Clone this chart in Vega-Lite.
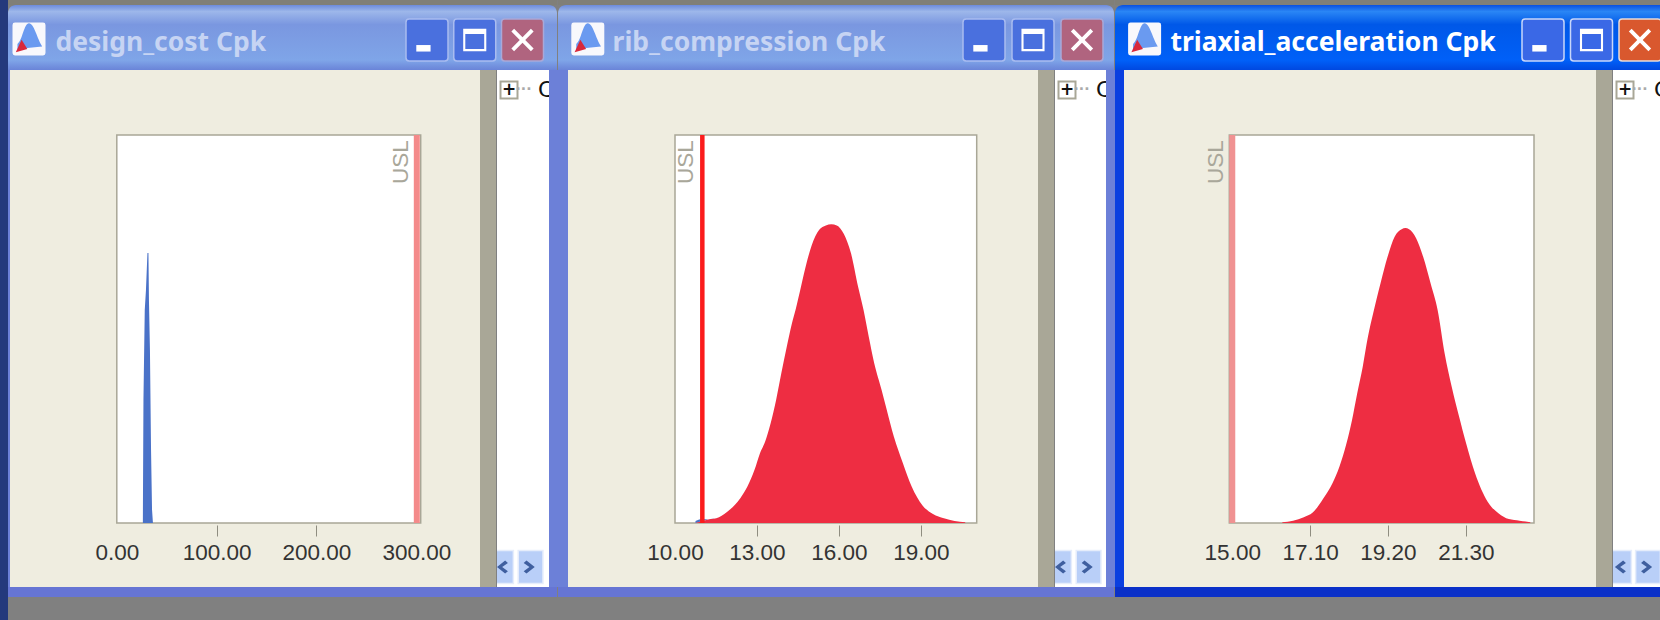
{"$schema":"https://vega.github.io/schema/vega-lite/v6.json","background":"#808080","padding":0,"spacing":0,"config":{"view":{"stroke":null},"concat":{"spacing":0},"axis":{"grid":false,"domain":false,"zindex":1}},
"datasets":{
"part":[{"part":"chrome"}],
"buttons":[{"button":"minimize"},{"button":"maximize"},{"button":"close"}],
"icon":[{"item":"icon","part":"plate"},{"item":"icon","part":"bell"},{"item":"icon","part":"foot"}],
"tree":[{"item":"expander","row":"head"}],
"treePlus":[{"item":"expander","row":"head","label":"+"}],
"treeDots":[{"item":"connector","row":"head","label":"···"}],
"treeNode":[{"item":"node","row":"head","label":"C"}],
"scroll":[{"item":"back","row":"foot"},{"item":"forward","row":"foot"}],
"design_cost":[{"series":"conforming","x":26.1,"y":0},{"series":"conforming","x":26.2,"y":0.06},{"series":"conforming","x":26.7,"y":0.317},{"series":"conforming","x":28.0,"y":0.549},{"series":"conforming","x":29.2,"y":0.6},{"series":"conforming","x":30.7,"y":0.696},{"series":"conforming","x":31.7,"y":0.696},{"series":"conforming","x":32.2,"y":0.575},{"series":"conforming","x":33.2,"y":0.446},{"series":"conforming","x":34.3,"y":0.188},{"series":"conforming","x":35.3,"y":0.034},{"series":"conforming","x":36.2,"y":0}],
"rib":[{"series":"conforming","x":10.75,"y":0.005},{"series":"conforming","x":11.02,"y":0.005},
{"series":"nonconforming","x":11.02,"y":0.005},{"series":"nonconforming","x":11.21,"y":0.009},{"series":"nonconforming","x":11.61,"y":0.015},{"series":"nonconforming","x":12.0,"y":0.034},{"series":"nonconforming","x":12.39,"y":0.064},{"series":"nonconforming","x":12.65,"y":0.094},{"series":"nonconforming","x":12.91,"y":0.137},{"series":"nonconforming","x":13.11,"y":0.18},{"series":"nonconforming","x":13.3,"y":0.21},{"series":"nonconforming","x":13.5,"y":0.257},{"series":"nonconforming","x":13.7,"y":0.317},{"series":"nonconforming","x":13.89,"y":0.386},{"series":"nonconforming","x":14.09,"y":0.454},{"series":"nonconforming","x":14.28,"y":0.515},{"series":"nonconforming","x":14.41,"y":0.549},{"series":"nonconforming","x":14.61,"y":0.609},{"series":"nonconforming","x":14.81,"y":0.669},{"series":"nonconforming","x":15.0,"y":0.715},{"series":"nonconforming","x":15.27,"y":0.755},{"series":"nonconforming","x":15.52,"y":0.767},{"series":"nonconforming","x":15.72,"y":0.77},{"series":"nonconforming","x":15.92,"y":0.767},{"series":"nonconforming","x":16.18,"y":0.745},{"series":"nonconforming","x":16.44,"y":0.695},{"series":"nonconforming","x":16.7,"y":0.609},{"series":"nonconforming","x":16.9,"y":0.549},{"series":"nonconforming","x":17.09,"y":0.48},{"series":"nonconforming","x":17.29,"y":0.412},{"series":"nonconforming","x":17.56,"y":0.343},{"series":"nonconforming","x":17.75,"y":0.291},{"series":"nonconforming","x":18.01,"y":0.222},{"series":"nonconforming","x":18.34,"y":0.154},{"series":"nonconforming","x":18.66,"y":0.094},{"series":"nonconforming","x":19.05,"y":0.046},{"series":"nonconforming","x":19.44,"y":0.023},{"series":"nonconforming","x":19.84,"y":0.012},{"series":"nonconforming","x":20.23,"y":0.005},{"series":"nonconforming","x":20.62,"y":0.002}],
"tri":[{"series":"nonconforming","x":16.35,"y":0.002},{"series":"nonconforming","x":16.64,"y":0.006},{"series":"nonconforming","x":16.93,"y":0.015},{"series":"nonconforming","x":17.17,"y":0.027},{"series":"nonconforming","x":17.46,"y":0.064},{"series":"nonconforming","x":17.7,"y":0.102},{"series":"nonconforming","x":17.89,"y":0.145},{"series":"nonconforming","x":18.08,"y":0.205},{"series":"nonconforming","x":18.23,"y":0.265},{"series":"nonconforming","x":18.37,"y":0.334},{"series":"nonconforming","x":18.52,"y":0.403},{"series":"nonconforming","x":18.66,"y":0.48},{"series":"nonconforming","x":18.8,"y":0.54},{"series":"nonconforming","x":19.0,"y":0.618},{"series":"nonconforming","x":19.19,"y":0.686},{"series":"nonconforming","x":19.38,"y":0.738},{"series":"nonconforming","x":19.57,"y":0.757},{"series":"nonconforming","x":19.67,"y":0.76},{"series":"nonconforming","x":19.77,"y":0.757},{"series":"nonconforming","x":19.96,"y":0.734},{"series":"nonconforming","x":20.15,"y":0.686},{"series":"nonconforming","x":20.35,"y":0.618},{"series":"nonconforming","x":20.54,"y":0.549},{"series":"nonconforming","x":20.73,"y":0.437},{"series":"nonconforming","x":20.92,"y":0.351},{"series":"nonconforming","x":21.12,"y":0.274},{"series":"nonconforming","x":21.31,"y":0.205},{"series":"nonconforming","x":21.55,"y":0.128},{"series":"nonconforming","x":21.89,"y":0.055},{"series":"nonconforming","x":22.18,"y":0.025},{"series":"nonconforming","x":22.46,"y":0.01},{"series":"nonconforming","x":22.75,"y":0.006},{"series":"nonconforming","x":23.04,"y":0.002}]
},
"hconcat":[
{"width":8,"height":620,"data":{"name":"part"},"mark":{"type":"rect","color":"#24397c"}},
{"spacing":0,"vconcat":[
 {"width":549,"height":5,"data":{"name":"part"},"mark":{"type":"rect","color":"#807f78"}},
 {"width":549,"height":65,"resolve":{"scale":{"x":"independent","shape":"independent","fill":"independent","stroke":"independent"}},"layer":[
  {"data":{"name":"part"},"mark":{"type":"rect","cornerRadiusTopLeft":8,"cornerRadiusTopRight":8,"color":{"x1":0,"y1":0,"x2":0,"y2":1,"gradient":"linear","stops":[{"offset":0,"color":"#6d8bdc"},{"offset":0.1,"color":"#9db7ea"},{"offset":0.3,"color":"#7a97e0"},{"offset":0.85,"color":"#7fa5e8"},{"offset":1,"color":"#6a84d8"}]}}},
  {"data":{"name":"buttons"},"mark":{"type":"point","filled":true,"opacity":1,"size":1764,"yOffset":2.5,"strokeWidth":1.5,"shape":"M -0.85 -1 Q -1 -1 -1 -0.85 V 0.85 Q -1 1 -0.85 1 H 0.85 Q 1 1 1 0.85 V -0.85 Q 1 -1 0.85 -1 Z"},"encoding":{"x":{"field":"button","type":"nominal","axis":null,"scale":{"type":"point","padding":0,"domain":["minimize","maximize","close"],"range":[419,514.5]}},"fill":{"field":"button","type":"nominal","legend":null,"scale":{"domain":["minimize","maximize","close"],"range":["#4a70de","#4a70de","#b0647f"]}},"stroke":{"field":"button","type":"nominal","legend":null,"scale":{"domain":["minimize","maximize","close"],"range":["#a9bcf0","#a9bcf0","#a9a8d8"]}}}},
  {"data":{"name":"buttons"},"mark":{"type":"point","filled":true,"opacity":1,"size":1764,"yOffset":2.5,"color":"#ffffff"},"encoding":{"x":{"field":"button","type":"nominal","axis":null,"scale":{"type":"point","padding":0,"domain":["minimize","maximize","close"],"range":[419,514.5]}},"shape":{"field":"button","type":"nominal","legend":null,"scale":{"domain":["minimize","maximize","close"],"range":["M -0.51 0.24 H 0.17 V 0.55 H -0.51 Z","M -0.55 -0.53 H 0.55 V 0.53 H -0.55 Z M -0.45 -0.29 V 0.43 H 0.45 V -0.29 Z","M -0.53 -0.4 L -0.4 -0.53 L 0 -0.13 L 0.4 -0.53 L 0.53 -0.4 L 0.13 0 L 0.53 0.4 L 0.4 0.53 L 0 0.13 L -0.4 0.53 L -0.53 0.4 L -0.13 0 Z"]}}}},
  {"data":{"name":"icon"},"mark":{"type":"point","filled":true,"opacity":1,"size":1089,"yOffset":1.5},"encoding":{"x":{"field":"item","type":"nominal","axis":null,"scale":{"type":"point","padding":0,"domain":["icon","title"],"range":[21,47.4]}},"shape":{"field":"part","type":"nominal","legend":null,"scale":{"domain":["plate","bell","foot"],"range":["M -0.85 -1 Q -1 -1 -1 -0.85 V 0.85 Q -1 1 -0.85 1 H 0.85 Q 1 1 1 0.85 V -0.85 Q 1 -1 0.85 -1 Z","M -0.7 0.3 C -0.4 0.1 -0.3 -0.95 0 -0.95 C 0.3 -0.95 0.5 0 0.8 0.45 L -0.7 0.6 Z","M -0.8 0.8 L -0.45 0.05 L -0.1 0.6 Z"]}},"fill":{"field":"part","type":"nominal","legend":null,"scale":{"domain":["plate","bell","foot"],"range":["#f8f8fc","#6a9af0","#d8283c"]}}}},
  {"data":{"values":[{"item":"title","title":"design_cost Cpk"}]},"mark":{"type":"text","align":"left","baseline":"middle","font":"Noto Sans","fontWeight":"bold","fontSize":26.5,"color":"#c6d4f3","yOffset":5},"encoding":{"x":{"field":"item","type":"nominal","axis":null,"scale":{"type":"point","padding":0,"domain":["icon","title"],"range":[21,47.4]}},"text":{"field":"title"}}}
 ]},
 {"spacing":0,"hconcat":[
  {"width":2,"height":517,"data":{"name":"part"},"mark":{"type":"rect","color":"#6c80d8"}},
  {"width":470,"height":517,"view":{"fill":"#efede0"},"encoding":{"x":{"type":"quantitative","scale":{"domain":[0,304.4],"range":[106.8,410.7],"nice":false,"zero":false}},"y":{"type":"quantitative","scale":{"domain":[0,1],"range":[453,65],"nice":false},"axis":null}},"layer":[
   {"data":{"name":"part"},"mark":{"type":"rect","fill":"#ffffff","stroke":"#a9a797","strokeWidth":1.5},"encoding":{"x":{"datum":0},"x2":{"datum":304.4},"y":{"datum":0},"y2":{"datum":1}}},
   {"data":{"name":"design_cost"},"mark":{"type":"area","interpolate":"linear"},"encoding":{"x":{"field":"x","type":"quantitative","axis":{"title":null,"values":[0,100,200,300],"format":".2f","offset":-62,"tickSize":11,"tickColor":"#8f8d80","labelPadding":5,"labelFont":"Liberation Sans","labelFontSize":22.5,"labelColor":"#333333","labelOverlap":false,"labelFlush":false,"tickOpacity":{"condition":{"test":"datum.value === 0 || datum.value === 300","value":0},"value":1}}},"y":{"field":"y","type":"quantitative"},"color":{"field":"series","type":"nominal","legend":null,"scale":{"domain":["conforming","nonconforming"],"range":["#4a72c8","#ee2d42"]}}}},
   {"data":{"values":[{"limit":"USL","value":300.5,"low":0,"high":1,"labelAt":0.93}]},"mark":{"type":"rule","color":"#f48a8a","strokeWidth":6},"encoding":{"x":{"field":"value","type":"quantitative"},"y":{"field":"low","type":"quantitative"},"y2":{"field":"high"}}},
   {"data":{"values":[{"limit":"USL","value":300.5,"low":0,"high":1,"labelAt":0.93}]},"mark":{"type":"text","angle":270,"dy":-16,"align":"center","baseline":"middle","font":"Liberation Sans","fontSize":22.5,"color":"#a9a79a"},"encoding":{"x":{"field":"value","type":"quantitative"},"y":{"field":"labelAt","type":"quantitative"},"text":{"field":"limit"}}}
  ]},
  {"width":16,"height":517,"data":{"name":"part"},"mark":{"type":"rect","color":"#a9a797"}},
  {"width":52,"height":517,"view":{"fill":"#ffffff"},"resolve":{"scale":{"x":"independent","shape":"independent"}},"encoding":{"y":{"field":"row","type":"nominal","axis":null,"scale":{"type":"point","padding":0,"domain":["head","foot"],"range":[20,497]}}},"layer":[
   {"data":{"name":"tree"},"mark":{"type":"point","shape":"square","filled":false,"opacity":1,"size":289,"stroke":"#a9a797","strokeWidth":2,"fill":"#ffffff"},"encoding":{"x":{"field":"item","type":"nominal","axis":null,"scale":{"type":"point","padding":0,"domain":["expander","connector","node"],"range":[12,41]}}}},
   {"data":{"name":"treePlus"},"mark":{"type":"text","align":"center","baseline":"middle","font":"DejaVu Sans","fontWeight":"bold","fontSize":17,"color":"#111111"},"encoding":{"x":{"field":"item","type":"nominal","axis":null,"scale":{"type":"point","padding":0,"domain":["expander","connector","node"],"range":[12,41]}},"text":{"field":"label"}}},
   {"data":{"name":"treeDots"},"mark":{"type":"text","align":"center","baseline":"middle","font":"DejaVu Sans","fontWeight":"bold","fontSize":14,"color":"#aaaaaa"},"encoding":{"x":{"field":"item","type":"nominal","axis":null,"scale":{"type":"point","padding":0,"domain":["expander","connector","node"],"range":[12,41]}},"text":{"field":"label"}}},
   {"data":{"name":"treeNode"},"mark":{"type":"text","align":"left","baseline":"middle","clip":true,"font":"DejaVu Sans","fontSize":22,"color":"#111111"},"encoding":{"x":{"field":"item","type":"nominal","axis":null,"scale":{"type":"point","padding":0,"domain":["expander","connector","node"],"range":[12,41]}},"text":{"field":"label"}}},
   {"data":{"name":"scroll"},"mark":{"type":"point","filled":true,"opacity":1,"size":1089,"clip":true,"color":"#b9cff8","stroke":"#e6edfb","strokeWidth":1.5,"shape":"M -0.75 -1 H 0.75 V 1 H -0.75 Z"},"encoding":{"x":{"field":"item","type":"nominal","axis":null,"scale":{"type":"point","padding":0,"domain":["back","forward"],"range":[4,33.6]}}}},
   {"data":{"name":"scroll"},"mark":{"type":"point","filled":true,"opacity":1,"size":1089,"clip":true,"color":"#3f5f9f"},"encoding":{"x":{"field":"item","type":"nominal","axis":null,"scale":{"type":"point","padding":0,"domain":["back","forward"],"range":[4,33.6]}},"shape":{"field":"item","type":"nominal","legend":null,"scale":{"domain":["back","forward"],"range":["M 0.25 -0.4 L 0.42 -0.25 L 0.07 0 L 0.42 0.25 L 0.25 0.4 L -0.25 0 Z","M -0.25 -0.4 L -0.42 -0.25 L -0.07 0 L -0.42 0.25 L -0.25 0.4 L 0.25 0 Z"]}}}}
  ]},
  {"width":9,"height":517,"data":{"name":"part"},"mark":{"type":"rect","color":"#6c80d8"}}
 ]},
 {"width":549,"height":10,"data":{"name":"part"},"mark":{"type":"rect","color":"#6675d4"}},
 {"width":549,"height":23,"data":{"name":"part"},"mark":{"type":"rect","color":"#808080"}}
]},
{"spacing":0,"vconcat":[
 {"width":556,"height":5,"data":{"name":"part"},"mark":{"type":"rect","color":"#807f78"}},
 {"width":556,"height":65,"resolve":{"scale":{"x":"independent","shape":"independent","fill":"independent","stroke":"independent"}},"layer":[
  {"data":{"name":"part"},"mark":{"type":"rect","cornerRadiusTopLeft":8,"cornerRadiusTopRight":8,"color":{"x1":0,"y1":0,"x2":0,"y2":1,"gradient":"linear","stops":[{"offset":0,"color":"#6d8bdc"},{"offset":0.1,"color":"#9db7ea"},{"offset":0.3,"color":"#7a97e0"},{"offset":0.85,"color":"#7fa5e8"},{"offset":1,"color":"#6a84d8"}]}}},
  {"data":{"name":"buttons"},"mark":{"type":"point","filled":true,"opacity":1,"size":1764,"yOffset":2.5,"strokeWidth":1.5,"shape":"M -0.85 -1 Q -1 -1 -1 -0.85 V 0.85 Q -1 1 -0.85 1 H 0.85 Q 1 1 1 0.85 V -0.85 Q 1 -1 0.85 -1 Z"},"encoding":{"x":{"field":"button","type":"nominal","axis":null,"scale":{"type":"point","padding":0,"domain":["minimize","maximize","close"],"range":[426,524]}},"fill":{"field":"button","type":"nominal","legend":null,"scale":{"domain":["minimize","maximize","close"],"range":["#4a70de","#4a70de","#b0647f"]}},"stroke":{"field":"button","type":"nominal","legend":null,"scale":{"domain":["minimize","maximize","close"],"range":["#a9bcf0","#a9bcf0","#a9a8d8"]}}}},
  {"data":{"name":"buttons"},"mark":{"type":"point","filled":true,"opacity":1,"size":1764,"yOffset":2.5,"color":"#ffffff"},"encoding":{"x":{"field":"button","type":"nominal","axis":null,"scale":{"type":"point","padding":0,"domain":["minimize","maximize","close"],"range":[426,524]}},"shape":{"field":"button","type":"nominal","legend":null,"scale":{"domain":["minimize","maximize","close"],"range":["M -0.51 0.24 H 0.17 V 0.55 H -0.51 Z","M -0.55 -0.53 H 0.55 V 0.53 H -0.55 Z M -0.45 -0.29 V 0.43 H 0.45 V -0.29 Z","M -0.53 -0.4 L -0.4 -0.53 L 0 -0.13 L 0.4 -0.53 L 0.53 -0.4 L 0.13 0 L 0.53 0.4 L 0.4 0.53 L 0 0.13 L -0.4 0.53 L -0.53 0.4 L -0.13 0 Z"]}}}},
  {"data":{"name":"icon"},"mark":{"type":"point","filled":true,"opacity":1,"size":1089,"yOffset":1.5},"encoding":{"x":{"field":"item","type":"nominal","axis":null,"scale":{"type":"point","padding":0,"domain":["icon","title"],"range":[29.8,54.6]}},"shape":{"field":"part","type":"nominal","legend":null,"scale":{"domain":["plate","bell","foot"],"range":["M -0.85 -1 Q -1 -1 -1 -0.85 V 0.85 Q -1 1 -0.85 1 H 0.85 Q 1 1 1 0.85 V -0.85 Q 1 -1 0.85 -1 Z","M -0.7 0.3 C -0.4 0.1 -0.3 -0.95 0 -0.95 C 0.3 -0.95 0.5 0 0.8 0.45 L -0.7 0.6 Z","M -0.8 0.8 L -0.45 0.05 L -0.1 0.6 Z"]}},"fill":{"field":"part","type":"nominal","legend":null,"scale":{"domain":["plate","bell","foot"],"range":["#f8f8fc","#6a9af0","#d8283c"]}}}},
  {"data":{"values":[{"item":"title","title":"rib_compression Cpk"}]},"mark":{"type":"text","align":"left","baseline":"middle","font":"Noto Sans","fontWeight":"bold","fontSize":26.5,"color":"#c6d4f3","yOffset":5},"encoding":{"x":{"field":"item","type":"nominal","axis":null,"scale":{"type":"point","padding":0,"domain":["icon","title"],"range":[29.8,54.6]}},"text":{"field":"title"}}}
 ]},
 {"spacing":0,"hconcat":[
  {"width":10,"height":517,"data":{"name":"part"},"mark":{"type":"rect","color":"#6c80d8"}},
  {"width":470,"height":517,"view":{"fill":"#efede0"},"encoding":{"x":{"type":"quantitative","scale":{"domain":[10,21.04],"range":[107,408.7],"nice":false,"zero":false}},"y":{"type":"quantitative","scale":{"domain":[0,1],"range":[453,65],"nice":false},"axis":null}},"layer":[
   {"data":{"name":"part"},"mark":{"type":"rect","fill":"#ffffff","stroke":"#a9a797","strokeWidth":1.5},"encoding":{"x":{"datum":10},"x2":{"datum":21.04},"y":{"datum":0},"y2":{"datum":1}}},
   {"data":{"name":"rib"},"mark":{"type":"area","interpolate":"monotone"},"encoding":{"x":{"field":"x","type":"quantitative","axis":{"title":null,"values":[10,13,16,19],"format":".2f","offset":-62,"tickSize":11,"tickColor":"#8f8d80","labelPadding":5,"labelFont":"Liberation Sans","labelFontSize":22.5,"labelColor":"#333333","labelOverlap":false,"labelFlush":false,"tickOpacity":{"condition":{"test":"datum.value === 10","value":0},"value":1}}},"y":{"field":"y","type":"quantitative"},"color":{"field":"series","type":"nominal","legend":null,"scale":{"domain":["conforming","nonconforming"],"range":["#4a72c8","#ee2d42"]}}}},
   {"data":{"values":[{"limit":"USL","value":11,"low":0,"high":1,"labelAt":0.93}]},"mark":{"type":"rule","color":"#fb1c1c","strokeWidth":4.5},"encoding":{"x":{"field":"value","type":"quantitative"},"y":{"field":"low","type":"quantitative"},"y2":{"field":"high"}}},
   {"data":{"values":[{"limit":"USL","value":11,"low":0,"high":1,"labelAt":0.93}]},"mark":{"type":"text","angle":270,"dy":-16,"align":"center","baseline":"middle","font":"Liberation Sans","fontSize":22.5,"color":"#a9a79a"},"encoding":{"x":{"field":"value","type":"quantitative"},"y":{"field":"labelAt","type":"quantitative"},"text":{"field":"limit"}}}
  ]},
  {"width":16,"height":517,"data":{"name":"part"},"mark":{"type":"rect","color":"#a9a797"}},
  {"width":51,"height":517,"view":{"fill":"#ffffff"},"resolve":{"scale":{"x":"independent","shape":"independent"}},"encoding":{"y":{"field":"row","type":"nominal","axis":null,"scale":{"type":"point","padding":0,"domain":["head","foot"],"range":[20,497]}}},"layer":[
   {"data":{"name":"tree"},"mark":{"type":"point","shape":"square","filled":false,"opacity":1,"size":289,"stroke":"#a9a797","strokeWidth":2,"fill":"#ffffff"},"encoding":{"x":{"field":"item","type":"nominal","axis":null,"scale":{"type":"point","padding":0,"domain":["expander","connector","node"],"range":[12,41]}}}},
   {"data":{"name":"treePlus"},"mark":{"type":"text","align":"center","baseline":"middle","font":"DejaVu Sans","fontWeight":"bold","fontSize":17,"color":"#111111"},"encoding":{"x":{"field":"item","type":"nominal","axis":null,"scale":{"type":"point","padding":0,"domain":["expander","connector","node"],"range":[12,41]}},"text":{"field":"label"}}},
   {"data":{"name":"treeDots"},"mark":{"type":"text","align":"center","baseline":"middle","font":"DejaVu Sans","fontWeight":"bold","fontSize":14,"color":"#aaaaaa"},"encoding":{"x":{"field":"item","type":"nominal","axis":null,"scale":{"type":"point","padding":0,"domain":["expander","connector","node"],"range":[12,41]}},"text":{"field":"label"}}},
   {"data":{"name":"treeNode"},"mark":{"type":"text","align":"left","baseline":"middle","clip":true,"font":"DejaVu Sans","fontSize":22,"color":"#111111"},"encoding":{"x":{"field":"item","type":"nominal","axis":null,"scale":{"type":"point","padding":0,"domain":["expander","connector","node"],"range":[12,41]}},"text":{"field":"label"}}},
   {"data":{"name":"scroll"},"mark":{"type":"point","filled":true,"opacity":1,"size":1089,"clip":true,"color":"#b9cff8","stroke":"#e6edfb","strokeWidth":1.5,"shape":"M -0.75 -1 H 0.75 V 1 H -0.75 Z"},"encoding":{"x":{"field":"item","type":"nominal","axis":null,"scale":{"type":"point","padding":0,"domain":["back","forward"],"range":[4,33.6]}}}},
   {"data":{"name":"scroll"},"mark":{"type":"point","filled":true,"opacity":1,"size":1089,"clip":true,"color":"#3f5f9f"},"encoding":{"x":{"field":"item","type":"nominal","axis":null,"scale":{"type":"point","padding":0,"domain":["back","forward"],"range":[4,33.6]}},"shape":{"field":"item","type":"nominal","legend":null,"scale":{"domain":["back","forward"],"range":["M 0.25 -0.4 L 0.42 -0.25 L 0.07 0 L 0.42 0.25 L 0.25 0.4 L -0.25 0 Z","M -0.25 -0.4 L -0.42 -0.25 L -0.07 0 L -0.42 0.25 L -0.25 0.4 L 0.25 0 Z"]}}}}
  ]},
  {"width":9,"height":517,"data":{"name":"part"},"mark":{"type":"rect","color":"#6c80d8"}}
 ]},
 {"width":556,"height":10,"data":{"name":"part"},"mark":{"type":"rect","color":"#6675d4"}},
 {"width":556,"height":23,"data":{"name":"part"},"mark":{"type":"rect","color":"#808080"}}
]},
{"spacing":0,"vconcat":[
 {"width":547,"height":5,"data":{"name":"part"},"mark":{"type":"rect","color":"#807f78"}},
 {"width":547,"height":65,"resolve":{"scale":{"x":"independent","shape":"independent","fill":"independent","stroke":"independent"}},"layer":[
  {"data":{"name":"part"},"mark":{"type":"rect","cornerRadiusTopLeft":8,"color":{"x1":0,"y1":0,"x2":0,"y2":1,"gradient":"linear","stops":[{"offset":0,"color":"#0a50e0"},{"offset":0.1,"color":"#2a86f5"},{"offset":0.3,"color":"#0058e8"},{"offset":0.85,"color":"#0060f8"},{"offset":1,"color":"#0048e0"}]}}},
  {"data":{"name":"buttons"},"mark":{"type":"point","filled":true,"opacity":1,"size":1764,"yOffset":2.5,"strokeWidth":1.5,"shape":"M -0.85 -1 Q -1 -1 -1 -0.85 V 0.85 Q -1 1 -0.85 1 H 0.85 Q 1 1 1 0.85 V -0.85 Q 1 -1 0.85 -1 Z"},"encoding":{"x":{"field":"button","type":"nominal","axis":null,"scale":{"type":"point","padding":0,"domain":["minimize","maximize","close"],"range":[428,525]}},"fill":{"field":"button","type":"nominal","legend":null,"scale":{"domain":["minimize","maximize","close"],"range":["#3a68e6","#3a68e6","#d9582e"]}},"stroke":{"field":"button","type":"nominal","legend":null,"scale":{"domain":["minimize","maximize","close"],"range":["#c8d6fa","#c8d6fa","#e8dcd8"]}}}},
  {"data":{"name":"buttons"},"mark":{"type":"point","filled":true,"opacity":1,"size":1764,"yOffset":2.5,"color":"#ffffff"},"encoding":{"x":{"field":"button","type":"nominal","axis":null,"scale":{"type":"point","padding":0,"domain":["minimize","maximize","close"],"range":[428,525]}},"shape":{"field":"button","type":"nominal","legend":null,"scale":{"domain":["minimize","maximize","close"],"range":["M -0.51 0.24 H 0.17 V 0.55 H -0.51 Z","M -0.55 -0.53 H 0.55 V 0.53 H -0.55 Z M -0.45 -0.29 V 0.43 H 0.45 V -0.29 Z","M -0.53 -0.4 L -0.4 -0.53 L 0 -0.13 L 0.4 -0.53 L 0.53 -0.4 L 0.13 0 L 0.53 0.4 L 0.4 0.53 L 0 0.13 L -0.4 0.53 L -0.53 0.4 L -0.13 0 Z"]}}}},
  {"data":{"name":"icon"},"mark":{"type":"point","filled":true,"opacity":1,"size":1089,"yOffset":1.5},"encoding":{"x":{"field":"item","type":"nominal","axis":null,"scale":{"type":"point","padding":0,"domain":["icon","title"],"range":[29.6,55.4]}},"shape":{"field":"part","type":"nominal","legend":null,"scale":{"domain":["plate","bell","foot"],"range":["M -0.85 -1 Q -1 -1 -1 -0.85 V 0.85 Q -1 1 -0.85 1 H 0.85 Q 1 1 1 0.85 V -0.85 Q 1 -1 0.85 -1 Z","M -0.7 0.3 C -0.4 0.1 -0.3 -0.95 0 -0.95 C 0.3 -0.95 0.5 0 0.8 0.45 L -0.7 0.6 Z","M -0.8 0.8 L -0.45 0.05 L -0.1 0.6 Z"]}},"fill":{"field":"part","type":"nominal","legend":null,"scale":{"domain":["plate","bell","foot"],"range":["#f8f8fc","#6a9af0","#d8283c"]}}}},
  {"data":{"values":[{"item":"title","title":"triaxial_acceleration Cpk"}]},"mark":{"type":"text","align":"left","baseline":"middle","font":"Noto Sans","fontWeight":"bold","fontSize":26.5,"color":"#ffffff","yOffset":5},"encoding":{"x":{"field":"item","type":"nominal","axis":null,"scale":{"type":"point","padding":0,"domain":["icon","title"],"range":[29.6,55.4]}},"text":{"field":"title"}}}
 ]},
 {"spacing":0,"hconcat":[
  {"width":9,"height":517,"data":{"name":"part"},"mark":{"type":"rect","color":"#0a3fe0"}},
  {"width":472,"height":517,"view":{"fill":"#efede0"},"encoding":{"x":{"type":"quantitative","scale":{"domain":[14.92,23.14],"range":[105.3,410],"nice":false,"zero":false}},"y":{"type":"quantitative","scale":{"domain":[0,1],"range":[453,65],"nice":false},"axis":null}},"layer":[
   {"data":{"name":"part"},"mark":{"type":"rect","fill":"#ffffff","stroke":"#a9a797","strokeWidth":1.5},"encoding":{"x":{"datum":14.92},"x2":{"datum":23.14},"y":{"datum":0},"y2":{"datum":1}}},
   {"data":{"name":"tri"},"mark":{"type":"area","interpolate":"monotone"},"encoding":{"x":{"field":"x","type":"quantitative","axis":{"title":null,"values":[15,17.1,19.2,21.3],"format":".2f","offset":-62,"tickSize":11,"tickColor":"#8f8d80","labelPadding":5,"labelFont":"Liberation Sans","labelFontSize":22.5,"labelColor":"#333333","labelOverlap":false,"labelFlush":false,"tickOpacity":{"condition":{"test":"datum.value === 15","value":0},"value":1}}},"y":{"field":"y","type":"quantitative"},"color":{"field":"series","type":"nominal","legend":null,"scale":{"domain":["conforming","nonconforming"],"range":["#4a72c8","#ee2d42"]}}}},
   {"data":{"values":[{"limit":"USL","value":15,"low":0,"high":1,"labelAt":0.93}]},"mark":{"type":"rule","color":"#f09292","strokeWidth":6},"encoding":{"x":{"field":"value","type":"quantitative"},"y":{"field":"low","type":"quantitative"},"y2":{"field":"high"}}},
   {"data":{"values":[{"limit":"USL","value":15,"low":0,"high":1,"labelAt":0.93}]},"mark":{"type":"text","angle":270,"dy":-16,"align":"center","baseline":"middle","font":"Liberation Sans","fontSize":22.5,"color":"#a9a79a"},"encoding":{"x":{"field":"value","type":"quantitative"},"y":{"field":"labelAt","type":"quantitative"},"text":{"field":"limit"}}}
  ]},
  {"width":16,"height":517,"data":{"name":"part"},"mark":{"type":"rect","color":"#a9a797"}},
  {"width":50,"height":517,"view":{"fill":"#ffffff"},"resolve":{"scale":{"x":"independent","shape":"independent"}},"encoding":{"y":{"field":"row","type":"nominal","axis":null,"scale":{"type":"point","padding":0,"domain":["head","foot"],"range":[20,497]}}},"layer":[
   {"data":{"name":"tree"},"mark":{"type":"point","shape":"square","filled":false,"opacity":1,"size":289,"stroke":"#a9a797","strokeWidth":2,"fill":"#ffffff"},"encoding":{"x":{"field":"item","type":"nominal","axis":null,"scale":{"type":"point","padding":0,"domain":["expander","connector","node"],"range":[12,41]}}}},
   {"data":{"name":"treePlus"},"mark":{"type":"text","align":"center","baseline":"middle","font":"DejaVu Sans","fontWeight":"bold","fontSize":17,"color":"#111111"},"encoding":{"x":{"field":"item","type":"nominal","axis":null,"scale":{"type":"point","padding":0,"domain":["expander","connector","node"],"range":[12,41]}},"text":{"field":"label"}}},
   {"data":{"name":"treeDots"},"mark":{"type":"text","align":"center","baseline":"middle","font":"DejaVu Sans","fontWeight":"bold","fontSize":14,"color":"#aaaaaa"},"encoding":{"x":{"field":"item","type":"nominal","axis":null,"scale":{"type":"point","padding":0,"domain":["expander","connector","node"],"range":[12,41]}},"text":{"field":"label"}}},
   {"data":{"name":"treeNode"},"mark":{"type":"text","align":"left","baseline":"middle","clip":true,"font":"DejaVu Sans","fontSize":22,"color":"#111111"},"encoding":{"x":{"field":"item","type":"nominal","axis":null,"scale":{"type":"point","padding":0,"domain":["expander","connector","node"],"range":[12,41]}},"text":{"field":"label"}}},
   {"data":{"name":"scroll"},"mark":{"type":"point","filled":true,"opacity":1,"size":1089,"clip":true,"color":"#b9cff8","stroke":"#e6edfb","strokeWidth":1.5,"shape":"M -0.75 -1 H 0.75 V 1 H -0.75 Z"},"encoding":{"x":{"field":"item","type":"nominal","axis":null,"scale":{"type":"point","padding":0,"domain":["back","forward"],"range":[6,35]}}}},
   {"data":{"name":"scroll"},"mark":{"type":"point","filled":true,"opacity":1,"size":1089,"clip":true,"color":"#3f5f9f"},"encoding":{"x":{"field":"item","type":"nominal","axis":null,"scale":{"type":"point","padding":0,"domain":["back","forward"],"range":[6,35]}},"shape":{"field":"item","type":"nominal","legend":null,"scale":{"domain":["back","forward"],"range":["M 0.25 -0.4 L 0.42 -0.25 L 0.07 0 L 0.42 0.25 L 0.25 0.4 L -0.25 0 Z","M -0.25 -0.4 L -0.42 -0.25 L -0.07 0 L -0.42 0.25 L -0.25 0.4 L 0.25 0 Z"]}}}}
  ]}
 ]},
 {"width":547,"height":10,"data":{"name":"part"},"mark":{"type":"rect","color":"#0a30c8"}},
 {"width":547,"height":23,"data":{"name":"part"},"mark":{"type":"rect","color":"#808080"}}
]}
]}
